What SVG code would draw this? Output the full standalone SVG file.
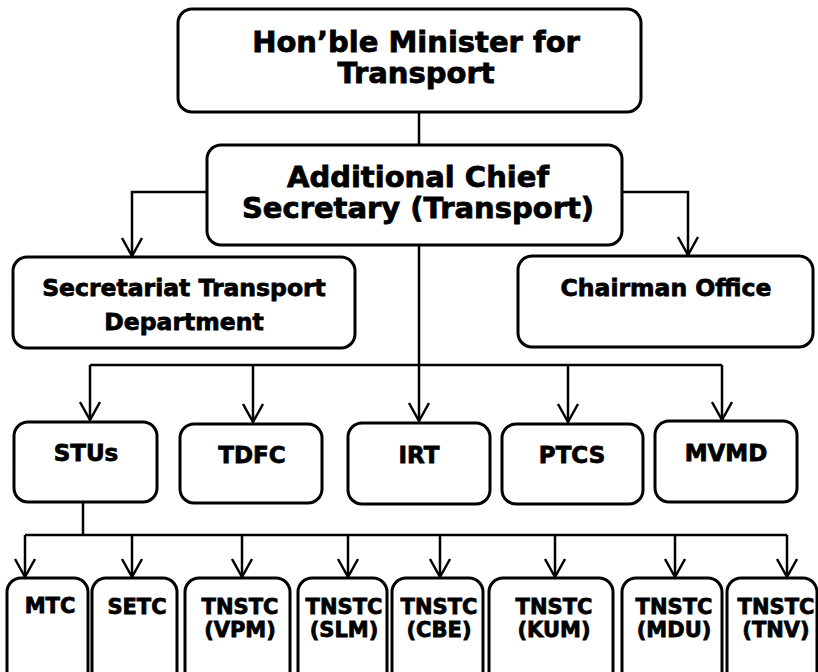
<svg xmlns="http://www.w3.org/2000/svg" width="818" height="672" viewBox="0 0 818 672">
<style>
.box{fill:#fff;stroke:#000;stroke-width:3}
.t{font-family:"DejaVu Sans",Verdana,sans-serif;font-weight:bold;fill:#000;stroke:#000;stroke-width:0.8;text-anchor:middle}
.c{fill:none;stroke:#000;stroke-width:2.5}
</style>
<defs>
<marker id="arr" markerUnits="userSpaceOnUse" markerWidth="30" markerHeight="30" refX="0" refY="0" orient="auto" overflow="visible" viewBox="-20 -15 30 30">
<path d="M-18,-10 L0,0 L-18,10" fill="none" stroke="#000" stroke-width="2.5"/>
</marker>
</defs>
<g id="connectors">
<path class="c" d="M419,112 V145"/>
<path class="c" d="M207,192 H132 V256" marker-end="url(#arr)"/>
<path class="c" d="M622,192 H688 V255" marker-end="url(#arr)"/>
<path class="c" d="M419,245 V421" marker-end="url(#arr)"/>
<path class="c" d="M90,365 H722"/>
<path class="c" d="M90,365 V420" marker-end="url(#arr)"/>
<path class="c" d="M253,365 V422" marker-end="url(#arr)"/>
<path class="c" d="M568,365 V422" marker-end="url(#arr)"/>
<path class="c" d="M722,365 V420" marker-end="url(#arr)"/>
<path class="c" d="M83,502 V535"/>
<path class="c" d="M25,535 H787"/>
<path class="c" d="M25,535 V577" marker-end="url(#arr)"/>
<path class="c" d="M132,535 V577" marker-end="url(#arr)"/>
<path class="c" d="M242,535 V577" marker-end="url(#arr)"/>
<path class="c" d="M348,535 V577" marker-end="url(#arr)"/>
<path class="c" d="M440,535 V577" marker-end="url(#arr)"/>
<path class="c" d="M555,535 V577" marker-end="url(#arr)"/>
<path class="c" d="M675,535 V577" marker-end="url(#arr)"/>
<path class="c" d="M787,535 V577" marker-end="url(#arr)"/>
</g>
<g id="minister"><rect class="box" x="178" y="9" width="463" height="103" rx="14"/>
<text class="t" x="416" y="52" font-size="29">Hon’ble Minister for</text>
<text class="t" x="416" y="83" font-size="29">Transport</text></g>
<g id="acs"><rect class="box" x="207" y="145" width="415" height="100" rx="14"/>
<text class="t" x="418" y="187" font-size="29">Additional Chief</text>
<text class="t" x="418" y="218" font-size="29">Secretary (Transport)</text></g>
<g id="secretariat"><rect class="box" x="13" y="257" width="342" height="91" rx="14"/>
<text class="t" x="184" y="296" font-size="23.5">Secretariat Transport</text>
<text class="t" x="184" y="330" font-size="23.5">Department</text></g>
<g id="chairman"><rect class="box" x="518" y="256" width="295" height="91" rx="14"/>
<text class="t" x="666" y="296" font-size="23.5">Chairman Office</text></g>
<g id="stus"><rect class="box" x="14" y="422" width="143" height="80" rx="14"/>
<text class="t" x="86" y="461" font-size="23">STUs</text></g>
<g id="tdfc"><rect class="box" x="180" y="424" width="142" height="79" rx="14"/>
<text class="t" x="252" y="463" font-size="23">TDFC</text></g>
<g id="irt"><rect class="box" x="348" y="423" width="142" height="81" rx="14"/>
<text class="t" x="419" y="463" font-size="23">IRT</text></g>
<g id="ptcs"><rect class="box" x="502" y="424" width="141" height="80" rx="14"/>
<text class="t" x="572" y="463" font-size="23">PTCS</text></g>
<g id="mvmd"><rect class="box" x="655" y="421" width="142" height="81" rx="14"/>
<text class="t" x="726" y="461" font-size="23">MVMD</text></g>
<g id="mtc"><rect class="box" x="7" y="578" width="81" height="110" rx="14"/>
<text class="t" x="50" y="613" font-size="21">MTC</text></g>
<g id="setc"><rect class="box" x="92" y="578" width="85" height="110" rx="14"/>
<text class="t" x="137" y="614" font-size="21">SETC</text></g>
<g id="vpm"><rect class="box" x="185" y="578" width="105" height="110" rx="14"/>
<text class="t" x="240" y="614" font-size="21">TNSTC</text><text class="t" x="240" y="637" font-size="21">(VPM)</text></g>
<g id="slm"><rect class="box" x="298" y="578" width="89" height="110" rx="14"/>
<text class="t" x="344" y="614" font-size="21">TNSTC</text><text class="t" x="344" y="637" font-size="21">(SLM)</text></g>
<g id="cbe"><rect class="box" x="392" y="578" width="91" height="110" rx="14"/>
<text class="t" x="439" y="614" font-size="21">TNSTC</text><text class="t" x="439" y="637" font-size="21">(CBE)</text></g>
<g id="kum"><rect class="box" x="489" y="578" width="124" height="110" rx="14"/>
<text class="t" x="554" y="614" font-size="21">TNSTC</text><text class="t" x="554" y="637" font-size="21">(KUM)</text></g>
<g id="mdu"><rect class="box" x="622" y="578" width="100" height="110" rx="14"/>
<text class="t" x="674" y="614" font-size="21">TNSTC</text><text class="t" x="674" y="637" font-size="21">(MDU)</text></g>
<g id="tnv"><rect class="box" x="727" y="578" width="90" height="110" rx="14"/>
<text class="t" x="776" y="614" font-size="21">TNSTC</text><text class="t" x="776" y="637" font-size="21">(TNV)</text></g>
</svg>
